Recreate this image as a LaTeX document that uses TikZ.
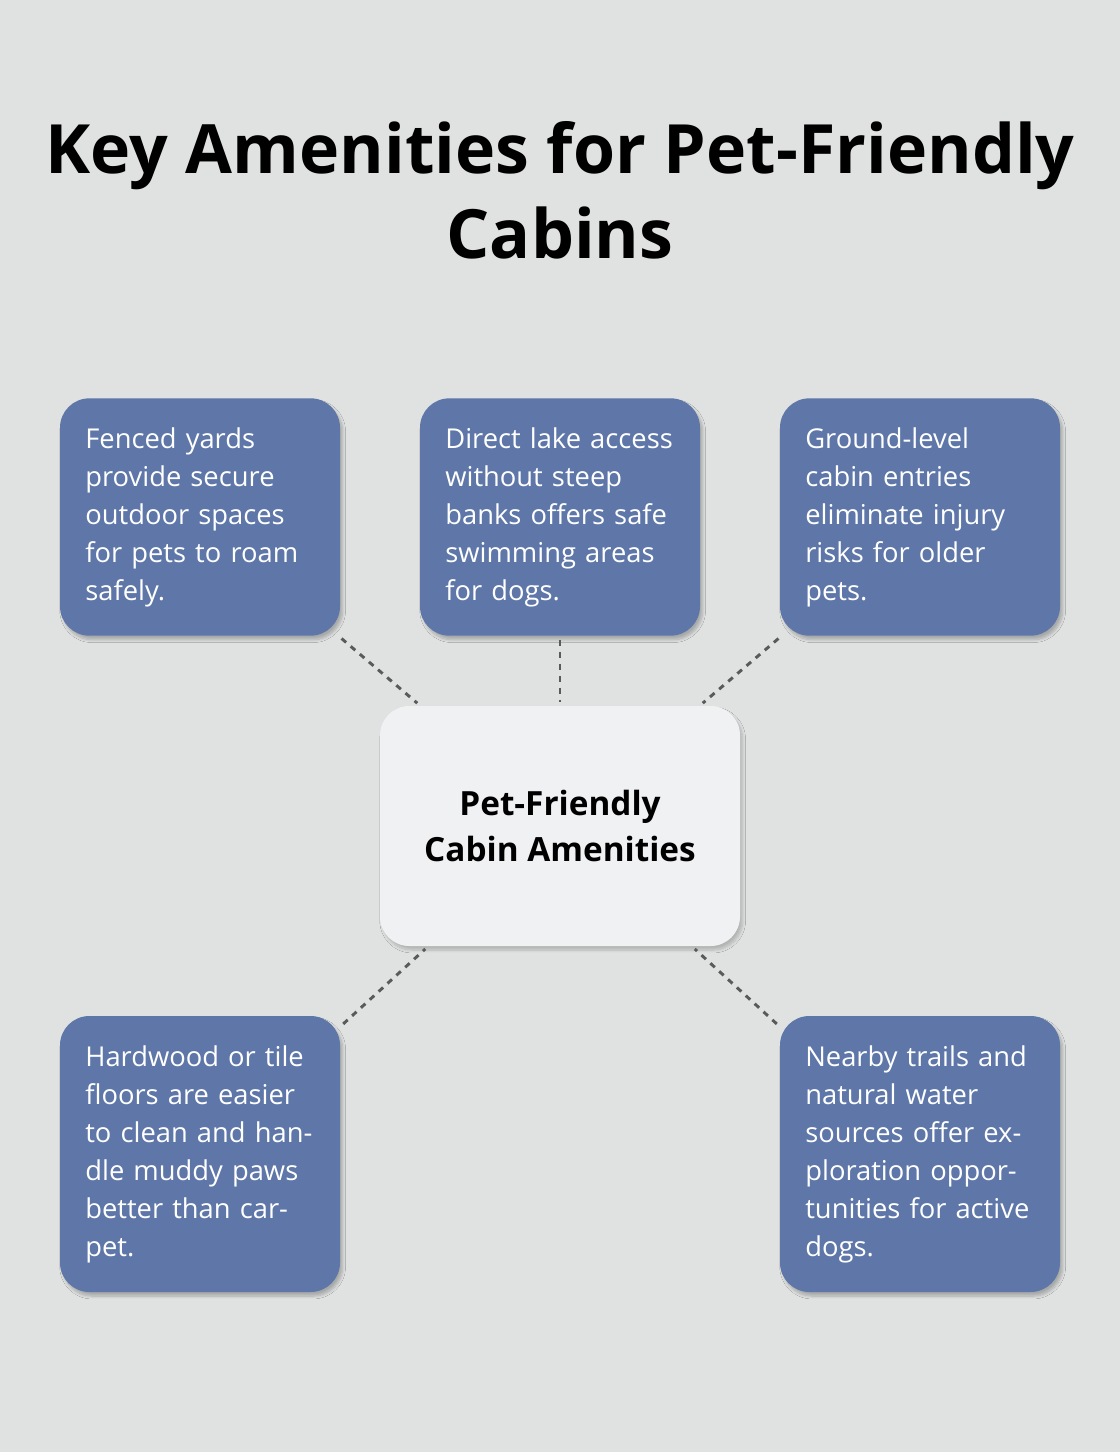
\documentclass[tikz,border=0pt]{standalone}
\usepackage{fontspec}
\setmainfont{Open Sans}
\usetikzlibrary{positioning,shadows.blur}
\definecolor{bgcol}{HTML}{E0E2E1}
\definecolor{boxcol}{HTML}{5E77A8}
\definecolor{hubcol}{HTML}{F0F1F3}
\definecolor{linecol}{HTML}{5A5A5A}
\tikzset{
	amenity/.style={fill=boxcol, text=white, rounded corners=22pt, minimum width=210pt,
		text width=172pt, align=left, inner xsep=19pt, font=\fontsize{20.5}{28.5}\selectfont,
		blur shadow={shadow blur steps=8, shadow xshift=2pt, shadow yshift=-3pt, shadow opacity=25}},
	hub/.style={fill=hubcol, rounded corners=22pt, minimum width=270pt, minimum height=180pt,
		align=center, font=\bfseries\fontsize{25}{35}\selectfont,
		blur shadow={shadow blur steps=8, shadow xshift=2pt, shadow yshift=-3pt, shadow opacity=20}},
	link/.style={draw=linecol, line width=2.2pt, dash pattern=on 4.5pt off 4.5pt, shorten >=3pt, shorten <=3pt}
}
\begin{document}
\begin{tikzpicture}[x=0.75pt, y=-0.75pt]
	\fill[bgcol] (0,0) rectangle (1120,1452);
	\useasboundingbox (0,0) rectangle (1120,1452);
	\node[font=\bfseries\fontsize{51}{64}\selectfont, align=center] (title) at (560,190) {Key Amenities for Pet-Friendly\\Cabins};
	\node[hub] (hub) at (560,826) {Pet-Friendly\\Cabin Amenities};
	\node[amenity, minimum height=178pt] (fence) at (200,517) {Fenced yards provide secure outdoor spaces for pets to roam safely.};
	\node[amenity, minimum height=178pt] (lake) at (560,517) {Direct lake access without steep banks offers safe swimming areas for dogs.};
	\node[amenity, minimum height=178pt] (entry) at (920,517) {Ground-level cabin entries eliminate injury risks for older pets.};
	\node[amenity, minimum height=207pt] (floor) at (200,1154) {Hardwood or tile floors are easier to clean and handle muddy paws better than carpet.};
	\node[amenity, minimum height=207pt] (trail) at (920,1154) {Nearby trails and natural water sources offer exploration opportunities for active dogs.};
	\draw[link] (fence) -- (hub);
	\draw[link] (lake) -- (hub);
	\draw[link] (entry) -- (hub);
	\draw[link] (floor) -- (hub);
	\draw[link] (trail) -- (hub);
\end{tikzpicture}
\end{document}
